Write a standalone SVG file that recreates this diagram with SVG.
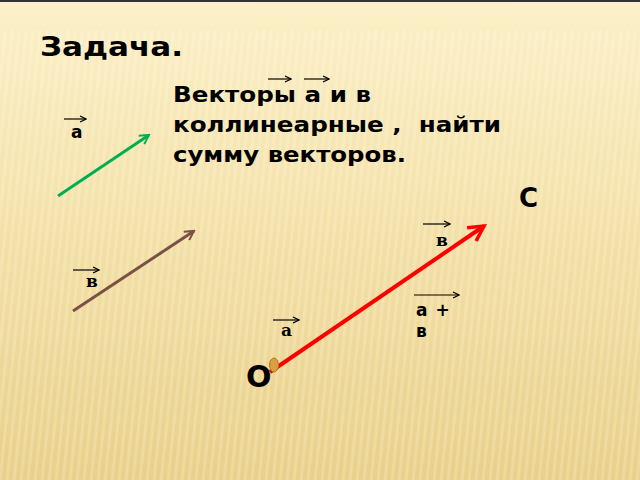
<svg xmlns="http://www.w3.org/2000/svg" width="640" height="480" viewBox="0 0 640 480">
<defs>
<linearGradient id="bg" x1="0" y1="0" x2="0" y2="1">
<stop offset="0" stop-color="#fcf1cc"/>
<stop offset="0.06" stop-color="#fbeec4"/>
<stop offset="0.5" stop-color="#f3e0a6"/>
<stop offset="1" stop-color="#e9d08a"/>
</linearGradient>
<pattern id="stripes" width="7" height="480" patternUnits="userSpaceOnUse" patternTransform="skewX(-6)">
<rect x="0" y="0" width="3" height="480" fill="#ffffff" opacity="0.18"/>
</pattern>
<marker id="hGreen" viewBox="0 0 12 12" refX="10" refY="6" markerWidth="12" markerHeight="12" markerUnits="userSpaceOnUse" orient="auto">
<path d="M1,1 L10,6 L1,11" fill="none" stroke="#00b050" stroke-width="2"/>
</marker>
<marker id="hBrown" viewBox="0 0 12 12" refX="10" refY="6" markerWidth="12" markerHeight="12" markerUnits="userSpaceOnUse" orient="auto">
<path d="M1,1 L10,6 L1,11" fill="none" stroke="#7b5147" stroke-width="2"/>
</marker>
<marker id="hRed" viewBox="0 0 20 20" refX="17" refY="10" markerWidth="20" markerHeight="20" markerUnits="userSpaceOnUse" orient="auto">
<path d="M2,2 L17,10 L2,18" fill="none" stroke="#ff0000" stroke-width="3.5"/>
</marker>
<marker id="hSmall" viewBox="0 0 8 8" refX="7" refY="4" markerWidth="8" markerHeight="8" markerUnits="userSpaceOnUse" orient="auto">
<path d="M1,1 L7,4 L1,7" fill="none" stroke="#000" stroke-width="1.2"/>
</marker>
</defs>
<style>
.sans{font-family:"DejaVu Sans","Liberation Sans",sans-serif;font-weight:bold;fill:#000}
.serif{font-family:"DejaVu Serif","Liberation Serif",serif;font-weight:bold;fill:#000}
.ov{stroke:#000;stroke-width:1.2;fill:none;marker-end:url(#hSmall)}
</style>
<rect width="640" height="480" fill="url(#bg)"/>
<rect y="30" width="640" height="450" fill="url(#stripes)"/>
<rect width="640" height="2" fill="#333"/>

<g id="title"><text class="sans" x="40" y="56" font-size="26" textLength="143" lengthAdjust="spacingAndGlyphs">Задача.</text></g>
<g id="task">
<text class="sans" x="173" y="102" font-size="21" textLength="198" lengthAdjust="spacingAndGlyphs">Векторы а и в</text>
<text class="sans" x="173" y="132" font-size="21" textLength="328" lengthAdjust="spacingAndGlyphs" xml:space="preserve">коллинеарные ,  найти</text>
<text class="sans" x="173" y="162" font-size="21" textLength="233" lengthAdjust="spacingAndGlyphs">сумму векторов.</text>
<line class="ov" x1="268" y1="79" x2="291" y2="79"/>
<line class="ov" x1="304" y1="79" x2="329" y2="79"/>
</g>

<g id="connectors">
<line x1="58" y1="196" x2="149" y2="135" stroke="#00b050" stroke-width="3" marker-end="url(#hGreen)"/>
<line x1="73" y1="311" x2="194" y2="231" stroke="#7b5147" stroke-width="3" marker-end="url(#hBrown)"/>
<line x1="270" y1="372" x2="484" y2="226" stroke="#ff0000" stroke-width="4" marker-end="url(#hRed)"/>
</g>

<g id="vec-a"><text class="sans" x="71" y="138" font-size="17">а</text><line class="ov" x1="64" y1="119" x2="86" y2="119"/></g>
<g id="vec-b"><text class="serif" x="86" y="287" font-size="17">в</text><line class="ov" x1="73" y1="270" x2="99" y2="270"/></g>
<g id="point-O">
<ellipse cx="274" cy="365" rx="4.5" ry="7" fill="#d8a040" stroke="#b07820" stroke-width="1"/>
<text class="sans" x="246" y="387" font-size="30">O</text>
</g>
<g id="point-C"><text class="sans" x="519" y="207" font-size="26">C</text></g>
<g id="label-b2"><text class="serif" x="436" y="246" font-size="17">в</text><line class="ov" x1="423" y1="224" x2="450" y2="224"/></g>
<g id="label-a2"><text class="serif" x="281" y="336" font-size="17">a</text><line class="ov" x1="273" y1="320" x2="299" y2="320"/></g>
<g id="label-sum">
<line class="ov" x1="414" y1="295" x2="459" y2="295"/>
<text class="sans" x="416" y="316" font-size="17" letter-spacing="1" xml:space="preserve">a +</text>
<text class="sans" x="416" y="337" font-size="17">в</text>
</g>
</svg>
